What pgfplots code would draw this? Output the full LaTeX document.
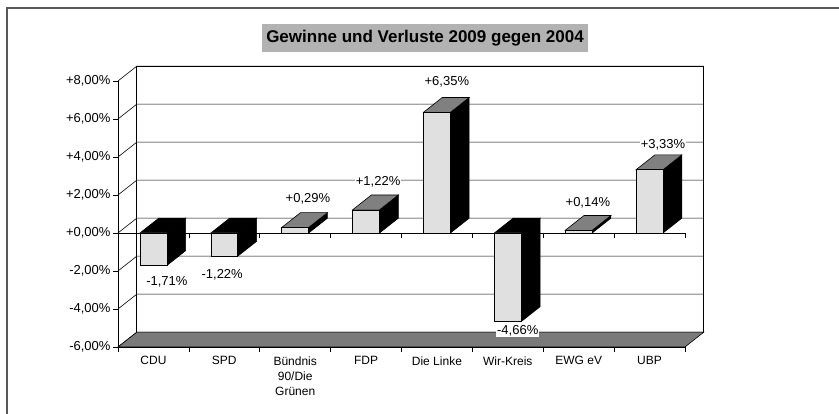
\documentclass[border=0pt]{standalone}
\usepackage{pgfplots}
\usepackage{pgfplotstable}
\pgfplotsset{compat=1.18}
\usepackage{fontspec}
\setmainfont{Liberation Sans}

\pgfplotstableread{
x y
0 -1.71
1 -1.22
2 0.29
3 1.22
4 6.35
5 -4.66
6 0.14
7 3.33
}\datatable

\pgfplotstableread{
lx ly v
0.19 -2.58 -1.71
0.97 -2.21 -1.22
2.18 1.79 0.29
3.17 2.68 1.22
4.14 7.95 6.35
5.14 -5.16 -4.66
6.13 1.58 0.14
7.19 4.63 3.33
}\labeltable

\def\ddx{0.265}
\def\ddy{0.78}
\def\hw{0.19}

\begin{document}
\begin{tikzpicture}
\useasboundingbox (0,0) rectangle (839pt,414pt);
\draw[black!65, line width=1.5pt] (7pt,0pt) -- (7pt,406pt) -- (839pt,406pt);
\begin{axis}[
  at={(118pt,67pt)}, anchor=south west,
  scale only axis, width=567pt, height=266pt,
  xmin=-0.5, xmax=7.5, ymin=-6, ymax=8,
  clip=false,
  axis x line*=bottom, axis y line*=left,
  axis line style={black, line width=0.8pt},
  xtick={-0.5,0.5,...,7.5},
  xticklabels={},
  extra x ticks={0,...,7},
  extra x tick labels={CDU,SPD,{Bündnis\\90/Die\\Grünen},FDP,{Die Linke},Wir-Kreis,{EWG eV},UBP},
  extra x tick style={major tick length=0pt, xticklabel style={yshift=-6pt}},
  xticklabel style={align=center, font=\fontsize{12}{15}\selectfont},
  ytick={-6,-4,...,8},
  yticklabels={{-6,00\%},{-4,00\%},{-2,00\%},{+0,00\%},{+2,00\%},{+4,00\%},{+6,00\%},{+8,00\%}},
  yticklabel style={font=\fontsize{13}{15}\selectfont, xshift=1pt},
  tick align=outside,
  major tick length=5pt,
  tick style={black, line width=0.7pt},
  title={Gewinne und Verluste 2009 gegen 2004},
  title style={at={(axis description cs:0.5,1)}, anchor=center, yshift=37pt, xshift=23.5pt,
    fill=black!30, font=\bfseries\fontsize{17}{20}\selectfont, inner xsep=4pt, inner ysep=6pt},
]
% back wall
\addplot[black, line width=0.8pt, fill=white, forget plot] coordinates {(-0.235,-5.22) (-0.235,8.78) (7.765,8.78) (7.765,-5.22)} -- cycle;
% left wall diagonals and back gridlines
\pgfplotsinvokeforeach{-6,-4,...,8}{
  \pgfmathsetmacro{\yb}{#1+\ddy}
  \edef\tmp{\noexpand\addplot[black, line width=0.6pt, forget plot] coordinates {(-0.5,#1) (-0.235,\yb) (7.765,\yb)};}
  \tmp
}
% floor
\addplot[draw=black, line width=0.6pt, fill=black!52, forget plot] coordinates {(-0.5,-6) (7.5,-6) (7.765,-5.22) (-0.235,-5.22)} -- cycle;
% front zero line with ticks
\addplot[black, line width=0.7pt, forget plot] coordinates {(-0.5,0) (7.5,0)};
\pgfplotsinvokeforeach{-0.5,0.5,...,7.5}{
  \addplot[black, line width=0.7pt, forget plot] coordinates {(#1,0) (#1,-0.26)};
}
% 3D side and top faces of the bars
\pgfplotsinvokeforeach{0,...,7}{
  \pgfplotstablegetelem{#1}{y}\of{\datatable}
  \let\barv\pgfplotsretval
  \pgfmathsetmacro{\xa}{#1-\hw}
  \pgfmathsetmacro{\xb}{#1+\hw}
  \pgfmathsetmacro{\xc}{#1+\hw+\ddx}
  \pgfmathsetmacro{\xd}{#1-\hw+\ddx}
  \pgfmathsetmacro{\mytop}{max(\barv,0)}
  \pgfmathsetmacro{\mytopb}{\mytop+\ddy}
  \pgfmathsetmacro{\barvb}{\barv+\ddy}
  \pgfmathtruncatemacro{\topcol}{\barv>0 ? 50 : 100}
  \edef\tmp{\noexpand\addplot[draw=black, line width=0.6pt, fill=black, forget plot] coordinates {(\xb,\barv) (\xb,0) (\xc,\ddy) (\xc,\barvb)} -- cycle;
    \noexpand\addplot[draw=black, line width=0.6pt, fill=black!\topcol, forget plot] coordinates {(\xa,\mytop) (\xb,\mytop) (\xc,\mytopb) (\xd,\mytopb)} -- cycle;}
  \tmp
}
% front faces
\addplot[ybar, bar width=0.38, fill=black!12, draw=black, line width=0.6pt, forget plot] table[x=x, y=y] {\datatable};
% data labels
\addplot[draw=none, mark=none, forget plot, point meta=explicit,
  nodes near coords={\pgfmathprintnumber[fixed, fixed zerofill, precision=2, use comma, showpos, assume math mode=true]{\pgfplotspointmeta}\%},
  nodes near coords align=center,
  every node near coord/.append style={font=\fontsize{13}{15}\selectfont, fill=white, inner sep=1pt}]
  table[x=lx, y=ly, meta=v] {\labeltable};
\end{axis}
\end{tikzpicture}
\end{document}
